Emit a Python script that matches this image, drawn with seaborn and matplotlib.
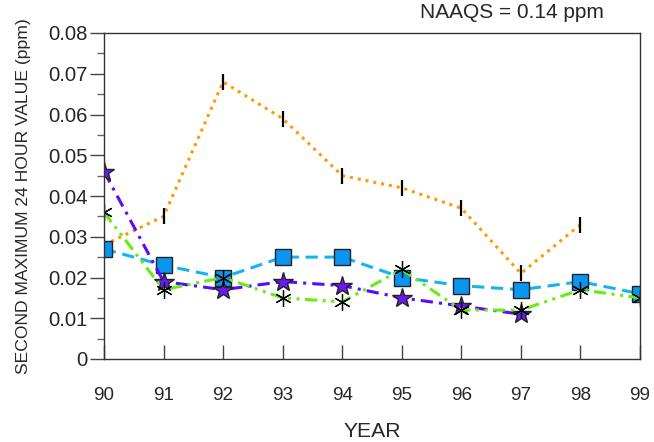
import numpy as np
import pandas as pd
import matplotlib
matplotlib.use("Agg")
import matplotlib.pyplot as plt
import seaborn as sns
from matplotlib.ticker import MultipleLocator, FixedLocator, FixedFormatter

years = [90, 91, 92, 93, 94, 95, 96, 97, 98, 99]
orange_vals = [0.028, 0.035, 0.068, 0.059, 0.045, 0.042, 0.037, 0.021, 0.033, np.nan]
blue_vals = [0.027, 0.023, 0.020, 0.025, 0.025, 0.020, 0.018, 0.017, 0.019, 0.016]
purple_vals = [0.046, 0.019, 0.017, 0.019, 0.018, 0.015, 0.013, 0.011, np.nan, np.nan]
green_vals = [0.036, 0.017, 0.020, 0.015, 0.014, 0.022, 0.012, 0.012, 0.017, 0.015]
ytick_vals = [0, 0.01, 0.02, 0.03, 0.04, 0.05, 0.06, 0.07, 0.08]
ytick_labels = ["0", "0.01", "0.02", "0.03", "0.04", "0.05", "0.06", "0.07", "0.08"]
xtick_labels = ["90", "91", "92", "93", "94", "95", "96", "97", "98", "99"]

sns.set_style("white")
plt.rcParams['font.family'] = ['Liberation Sans', 'DejaVu Sans']

fig = plt.figure(figsize=(6.54, 4.42), dpi=100)
ax = fig.add_axes([104/654, 1-359/442, (640-104)/654, (359-33)/442])

def draw(vals, **kw):
    df = pd.DataFrame({"year": years, "val": vals}).dropna()
    sns.lineplot(data=df, x="year", y="val", ax=ax, **kw)

draw(orange_vals, color="#ff9a00", linestyle=(0, (1, 1.6)), linewidth=2.2,
     marker="|", markersize=12, markeredgecolor="black", markeredgewidth=1.6)
draw(blue_vals, color="#14b4f0", linestyle=(0, (4, 2.2)), linewidth=2.2,
     marker="s", markersize=12, markerfacecolor="#0a96f0", markeredgecolor="#222222",
     markeredgewidth=1.0)
draw(purple_vals, color="#5a0aff", linestyle=(0, (4, 2, 1, 2)), linewidth=2.2,
     marker="*", markersize=15, markerfacecolor="#6a1cf0", markeredgecolor="#222222",
     markeredgewidth=1.0)
draw(green_vals, color="#66ee11", linestyle=(0, (4, 1.8, 1, 1.8, 1, 1.8)), linewidth=2.2,
     marker=(6, 2, 0), markersize=12, markeredgecolor="black", markeredgewidth=0.9)

ax.set_xlim(90, 99)
ax.set_ylim(0, 0.08)
ax.xaxis.set_major_locator(FixedLocator(years))
ax.xaxis.set_major_formatter(FixedFormatter(xtick_labels))
ax.yaxis.set_major_locator(FixedLocator(ytick_vals))
ax.yaxis.set_major_formatter(FixedFormatter(ytick_labels))
ax.yaxis.set_minor_locator(MultipleLocator(0.005))

ax.tick_params(axis="x", which="major", direction="in", length=10, width=1,
               color="#444444", pad=20, labelsize=13.6, bottom=True, top=False)
ax.tick_params(axis="y", which="major", direction="out", length=10, width=1,
               color="#444444", pad=2, labelsize=14.6, left=True, right=False)
ax.tick_params(axis="y", which="minor", direction="out", length=5, width=1,
               color="#666666", left=True, right=False)

for s in ax.spines.values():
    s.set_visible(True)
    s.set_color("#333333")
    s.set_linewidth(1.0)

ax.set_xlabel("YEAR", fontsize=15.2, labelpad=13)
ax.set_ylabel("SECOND MAXIMUM 24 HOUR VALUE (ppm)", fontsize=12.6, labelpad=12)

fig.text(604/654, 1-13/442, "NAAQS = 0.14 ppm", ha="right", va="center", fontsize=15)

fig.savefig("out.png", dpi=100)
